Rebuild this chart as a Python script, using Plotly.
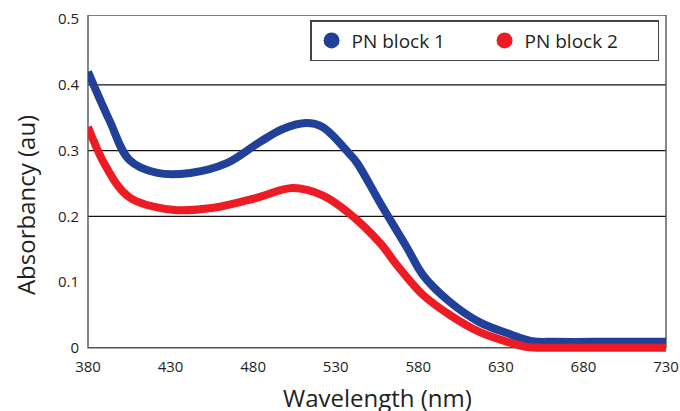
import plotly.graph_objects as go

# Data
wl_blue = [380, 393, 405, 422, 442, 464, 484, 498, 512, 522, 538, 543, 557, 573, 583, 599, 617, 634, 649, 662, 700, 730]
abs_blue = [0.420, 0.346, 0.286, 0.266, 0.266, 0.281, 0.313, 0.333, 0.342, 0.336, 0.296, 0.281, 0.220, 0.153, 0.110, 0.070, 0.039, 0.022, 0.010, 0.009, 0.009, 0.009]

wl_red = [380, 391, 405, 431, 456, 482, 504, 522, 538, 557, 567, 583, 599, 617, 634, 646, 660, 700, 730]
abs_red = [0.336, 0.275, 0.229, 0.210, 0.213, 0.228, 0.243, 0.232, 0.205, 0.159, 0.126, 0.080, 0.050, 0.024, 0.009, 0.001, 0.000, 0.000, 0.000]

series_names = ["PN block 1", "PN block 2"]
series_colors = ["#21409a", "#ed1c24"]

x_ticks = [380, 430, 480, 530, 580, 630, 680, 730]
y_ticks = [0, 0.1, 0.2, 0.3, 0.4, 0.5]
y_ticklabels = ["0", "0.1", "0.2", "0.3", "0.4", "0.5"]
grid_values = [0.2, 0.3, 0.4]

Y_TOP = 0.5064
Y_BOT = -0.0065
FONT = "Open Sans"
TXT = "#231f20"

fig = go.Figure()
for xs, ys, name, col in [(wl_blue, abs_blue, series_names[0], series_colors[0]),
                          (wl_red, abs_red, series_names[1], series_colors[1])]:
    fig.add_trace(go.Scatter(x=xs, y=ys, mode="lines", name=name,
                             line=dict(color=col, width=8, shape="spline", smoothing=1.0),
                             showlegend=False))
# legend entries with circle symbols
for name, col in zip(series_names, series_colors):
    fig.add_trace(go.Scatter(x=[None], y=[None], mode="markers", name=name,
                             marker=dict(color=col, size=20, symbol="circle")))

shapes = []
for g in grid_values:
    shapes.append(dict(type="line", xref="paper", yref="y", x0=0, x1=1, y0=g, y1=g,
                       line=dict(color="#111111", width=1.2), layer="below"))
shapes.append(dict(type="rect", xref="paper", yref="y", x0=0, x1=1, y0=0, y1=Y_TOP,
                   line=dict(color="#555555", width=1.4), layer="below"))

fig.update_layout(
    width=680, height=411,
    margin=dict(l=88, r=14, t=15, b=59),
    paper_bgcolor="white", plot_bgcolor="white",
    font=dict(family=FONT, color=TXT, size=15),
    shapes=shapes,
    showlegend=True,
    legend=dict(orientation="h", x=0.988, xanchor="right", y=0.985, yanchor="top",
                bordercolor="#444444", borderwidth=1.5, bgcolor="white",
                font=dict(size=19, color=TXT), entrywidth=128),
    xaxis=dict(range=[380, 730], tickvals=x_ticks, ticktext=[str(v) for v in x_ticks],
               showgrid=False, zeroline=False, showline=False, ticks="", automargin=False,
               tickfont=dict(size=15, color=TXT), ticklabelstandoff=4),
    yaxis=dict(range=[Y_BOT, Y_TOP], tickvals=y_ticks, ticktext=y_ticklabels,
               showgrid=False, zeroline=False, showline=False, ticks="", automargin=False,
               tickfont=dict(size=15, color=TXT), ticklabelstandoff=8),
    annotations=[
        dict(text="Wavelength (nm)", xref="paper", yref="paper", x=0.5, y=-0.135,
             xanchor="center", yanchor="middle", showarrow=False,
             font=dict(size=24, color=TXT, family=FONT)),
        dict(text="Absorbancy (au)", xref="paper", yref="paper", x=-0.109, y=0.436,
             xanchor="center", yanchor="middle", showarrow=False, textangle=-90,
             font=dict(size=24, color=TXT, family=FONT)),
    ],
)

fig.write_html("out.html", config={"displayModeBar": False},
               post_script="document.body.style.margin='0';")
